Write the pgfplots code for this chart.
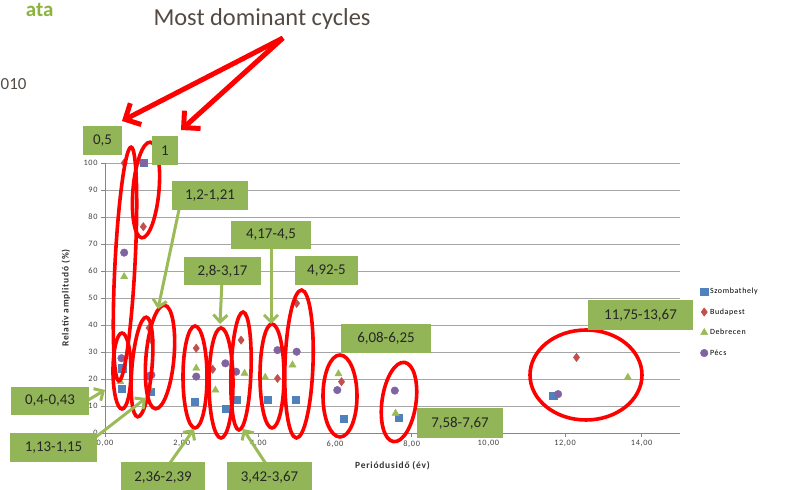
\documentclass[border=0pt]{standalone}
\usepackage{pgfplots}
\pgfplotsset{compat=1.18}
\usepackage{fontspec}
\setmainfont{Carlito}
\newfontfamily\chartfont[LetterSpace=8]{Carlito}
\usetikzlibrary{arrows.meta}
\definecolor{szc}{HTML}{4F81BD}
\definecolor{bpc}{HTML}{C0504D}
\definecolor{dbc}{HTML}{9BBB59}
\definecolor{pcc}{HTML}{8064A2}
\definecolor{boxg}{HTML}{92B558}
\definecolor{arrg}{HTML}{9BBB59}
\definecolor{titleg}{HTML}{8CB33E}
\definecolor{txtbrown}{HTML}{524A43}
\definecolor{gridc}{HTML}{A6A6A6}
\definecolor{axc}{HTML}{868686}
\begin{document}
\begin{tikzpicture}
\clip (0,0) rectangle (787bp,490bp);
\begin{axis}[
  at={(105bp,57bp)}, anchor=south west,
  scale only axis, width=575bp, height=270bp,
  xmin=0, xmax=15, ymin=0, ymax=100,
  clip=false,
  axis x line*=bottom, axis y line*=left,
  axis line style={axc, line width=0.8bp},
  xtick={0,2,...,14},
  xticklabels={{0,00},{2,00},{4,00},{6,00},{8,00},{10,00},{12,00},{14,00}},
  ytick={0,10,...,100},
  ymajorgrids, grid style={gridc, line width=0.7bp},
  tick align=outside, major tick length=4bp, tick style={axc, line width=0.8bp},
  /pgf/number format/assume math mode=true,
  tick label style={font=\chartfont\fontsize{8.3}{9}\selectfont, text=black!75},
  xlabel={\bfseries Periódusidő (év)},
  ylabel={\bfseries Relatív amplitudó (\%)},
  xlabel style={font=\chartfont\fontsize{9.5}{10}\selectfont, text=black!80, at={(axis description cs:0.5,-0.12)}, anchor=center},
  ylabel style={font=\chartfont\fontsize{9.5}{10}\selectfont, text=black!80, at={(axis description cs:-0.068,0.5)}, anchor=center},
  legend style={at={(1.03,0.57)}, anchor=north west, draw=none, fill=none,
    font=\chartfont\fontsize{8}{9}\selectfont, row sep=0pt,
    nodes={minimum height=20.5bp, text height=6bp, text depth=1.5bp, inner sep=2bp}},
  legend cell align=left,
]
\addplot[only marks, mark=square*, mark size=3.6bp, color=szc] coordinates {
 (0.45,24.0) (0.43,16.5) (1.0,100) (1.2,15.3) (2.34,11.6) (3.14,9.1) (3.44,12.2)
 (4.24,12.2) (4.98,12.2) (6.23,5.4) (7.66,5.8) (11.69,13.7)};
\addlegendentry{Szombathely}
\addplot[only marks, mark=diamond*, mark size=4.2bp, color=bpc] coordinates {
 (0.5,100) (1.0,76.4) (1.15,38.9) (1.21,34.4) (2.38,31.4) (2.81,23.6) (3.55,34.4)
 (4.5,20.2) (5.0,48.0) (6.17,19.0) (12.3,28.0)};
\addlegendentry{Budapest}
\addplot[only marks, mark=triangle*, mark size=4.2bp, color=dbc] coordinates {
 (0.4,19.0) (0.5,57.9) (1.15,17.0) (2.38,24.0) (2.88,15.9) (3.64,22.1) (4.18,20.6)
 (4.89,25.2) (6.09,21.9) (7.58,7.3) (13.64,20.6)};
\addlegendentry{Debrecen}
\addplot[only marks, mark=*, mark size=3.8bp, color=pcc] coordinates {
 (0.43,27.7) (0.5,66.8) (1.0,100) (1.13,21.0) (1.21,21.5) (2.38,20.9) (3.14,25.8)
 (3.42,22.7) (4.5,30.7) (5.0,30.1) (6.06,15.9) (7.56,15.7) (11.82,14.4)};
\addlegendentry{Pécs}
\end{axis}
\begin{scope}[x=1bp,y=-1bp,yshift=490bp]
 % slide texts
 \node[anchor=base east, text=titleg, font=\fontsize{21}{23}\selectfont\bfseries] at (57,17) {ata};
 \node[anchor=base east, text=txtbrown, font=\fontsize{17}{20}\selectfont] at (30,90) {010};
 \node[text=txtbrown, font=\fontsize{24.5}{26}\selectfont] at (262,19) {Most dominant cycles};
 % red ellipses
 \tikzset{redell/.style={draw=red, line width=3.6bp}}
 \draw[redell, rotate around={-3:(125,264)}] (125,264) ellipse [x radius=10, y radius=117];
 \draw[redell, rotate around={-5:(146,190)}] (146,190) ellipse [x radius=13, y radius=48];
 \draw[redell] (122,371) ellipse [x radius=9, y radius=38];
 \draw[redell, rotate around={-5:(142,367)}] (142,367) ellipse [x radius=10, y radius=50];
 \draw[redell, rotate around={-5:(160,357)}] (160,357) ellipse [x radius=14, y radius=52];
 \draw[redell] (195,377) ellipse [x radius=12, y radius=51];
 \draw[redell] (221,383) ellipse [x radius=12, y radius=55];
 \draw[redell, rotate around={-2:(241,371)}] (241,371) ellipse [x radius=10, y radius=59];
 \draw[redell] (272,376) ellipse [x radius=12, y radius=52];
 \draw[redell, rotate around={-2:(299,364)}] (299,364) ellipse [x radius=14, y radius=74];
 \draw[redell] (340,396) ellipse [x radius=17, y radius=41];
 \draw[redell, rotate around={-8:(399,402)}] (399,402) ellipse [x radius=17, y radius=40];
 \draw[redell] (586,375) ellipse [x radius=56, y radius=45];
 % red arrows
 \draw[red, line width=5bp, -{Straight Barb[length=12bp, width=24bp, line width=5bp]}] (283,38) -- (122,121);
 \draw[red, line width=5bp, -{Straight Barb[length=12bp, width=24bp, line width=5bp]}] (283,38) -- (181,130);
 % green arrows
 \tikzset{garr/.style={draw=arrg, line width=3bp, -{Straight Barb[length=7bp, width=14bp, line width=3bp]}}}
 \draw[garr] (180,205) -- (158,309);
 \draw[garr] (222,280) -- (220,324);
 \draw[garr] (271,245) -- (271,324);
 \draw[garr] (85,402) -- (105,390);
 \draw[garr] (92,440) -- (146,398);
 \draw[garr] (165,470) -- (194,429);
 \draw[garr] (270,470) -- (243,429);
 % green boxes
 \newcommand\gbox[5]{\fill[boxg] (#1,#2) rectangle (#3,#4);
   \node[text=black!85, font=\fontsize{15}{16}\selectfont, inner sep=0] at ({(#1+#3)/2},{(#2+#4)/2}) {#5};}
 \gbox{83}{126}{122}{155}{0,5}
 \gbox{152}{136}{178}{165}{1}
 \gbox{172}{181}{248}{210}{1,2-1,21}
 \gbox{231}{221}{311}{249}{4,17-4,5}
 \gbox{184}{257}{261}{285}{2,8-3,17}
 \gbox{295}{256}{358}{285}{4,92-5}
 \gbox{341}{324}{431}{353}{6,08-6,25}
 \gbox{588}{300}{693}{330}{11,75-13,67}
 \gbox{417}{408}{503}{438}{7,58-7,67}
 \gbox{11}{387}{89}{415}{0,4-0,43}
 \gbox{10}{433}{97}{462}{1,13-1,15}
 \gbox{121}{462}{205}{492}{2,36-2,39}
 \gbox{227}{462}{312}{492}{3,42-3,67}
\end{scope}
\end{tikzpicture}
\end{document}
